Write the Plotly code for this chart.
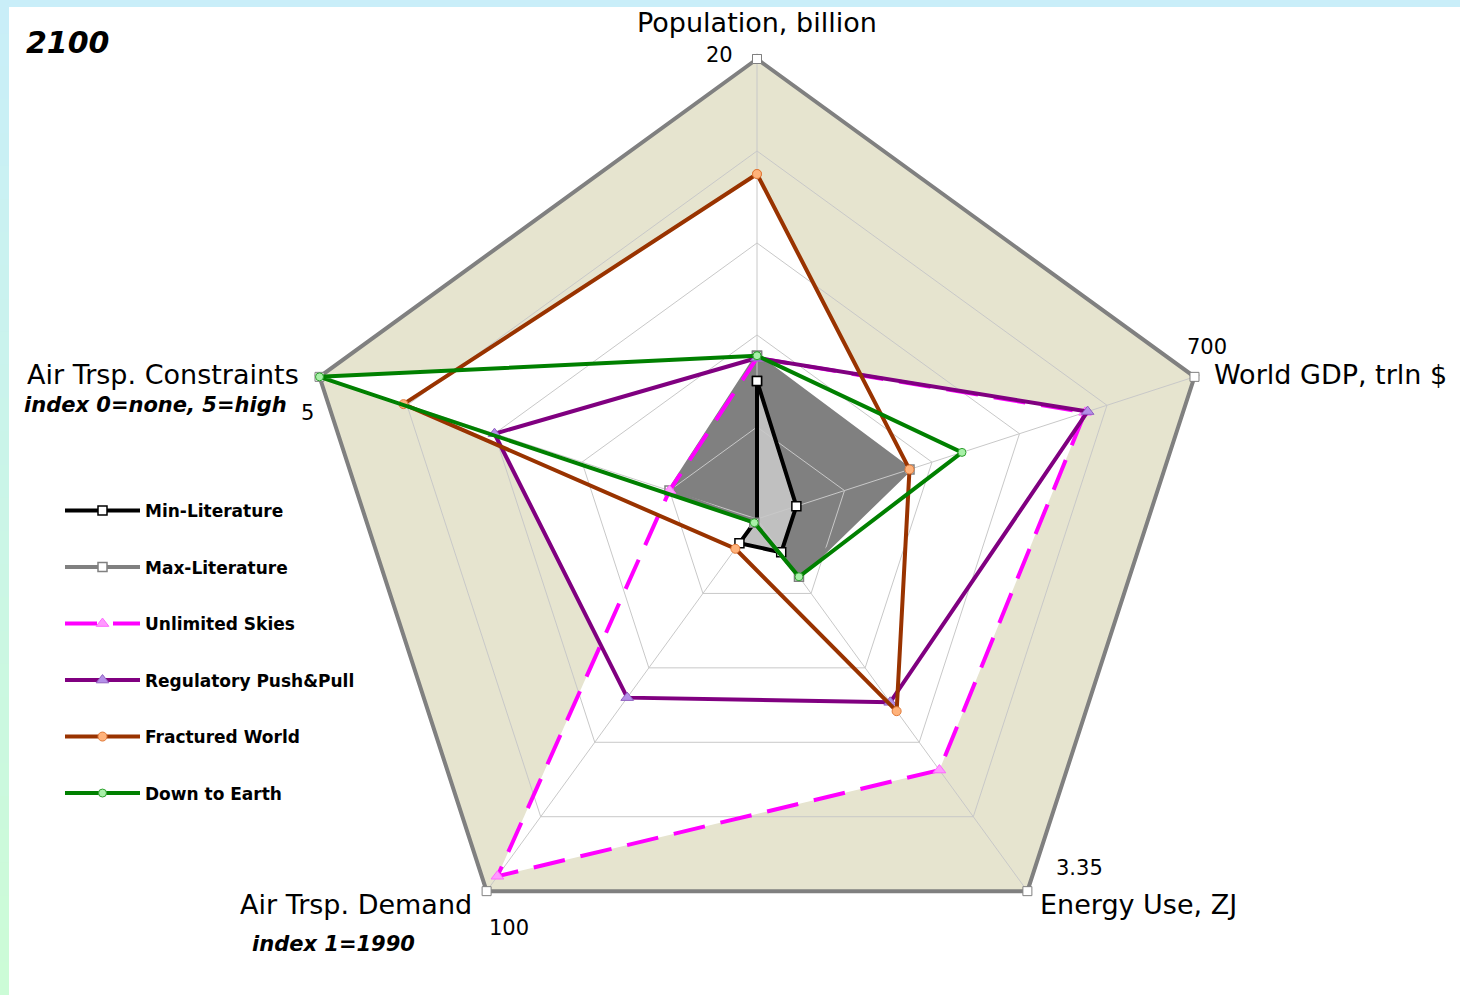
import math
import plotly.graph_objects as go

# ---------------- data ----------------
axes = ["Population, billion", "World GDP, trln $", "Energy Use, ZJ",
        "Air Trsp. Demand", "Air Trsp. Constraints"]
axis_max = [20, 700, 3.35, 100, 5]
axis_max_labels = ["20", "700", "3.35", "100", "5"]

min_literature = [6.0, 63, 0.30, 6.5, 0.0]
max_literature = [7.1, 244, 0.52, 1.0, 1.0]
unlimited_skies = [7.0, 525, 2.26, 96, 1.0]
regulatory_push_pull = [7.0, 529, 1.65, 48, 3.0]
fractured_world = [15.0, 244, 1.73, 8.0, 4.04]
down_to_earth = [7.1, 328, 0.52, 1.0, 5.0]
scale_frame = axis_max  # outer frame = axis maximum

year_label = "2100"

# ---------------- geometry / style ----------------
W, H = 1460, 995
CX, CY, R = 757, 519, 460          # pixel centre and radius of r = 1
RMAX = 1.012                        # small headroom so the frame line is not clipped
RD = R * RMAX
dom_x = [(CX - RD) / W, (CX + RD) / W]
dom_y = [(H - (CY + RD)) / H, (H - (CY - RD)) / H]
FONT = "DejaVu Sans"


def norm(vals):
    r = [v / m for v, m in zip(vals, axis_max)]
    return r + r[:1]


theta = axes + axes[:1]

fig = go.Figure()

# ---- layer 1 (polar): fills ----
fig.add_trace(go.Scatterpolar(r=norm(scale_frame), theta=theta, mode="lines", fill="toself",
                              fillcolor="#E6E4CF", line=dict(width=0, color="#E6E4CF"),
                              showlegend=False, hoverinfo="skip", subplot="polar"))
for vals in [unlimited_skies, regulatory_push_pull, fractured_world, down_to_earth]:
    fig.add_trace(go.Scatterpolar(r=norm(vals), theta=theta, mode="lines", fill="toself",
                                  fillcolor="white", line=dict(width=0, color="white"),
                                  showlegend=False, hoverinfo="skip", subplot="polar"))
fig.add_trace(go.Scatterpolar(r=norm(max_literature), theta=theta, mode="lines", fill="toself",
                              fillcolor="#808080", line=dict(width=0, color="#808080"),
                              showlegend=False, hoverinfo="skip", subplot="polar"))
fig.add_trace(go.Scatterpolar(r=norm(min_literature), theta=theta, mode="lines", fill="toself",
                              fillcolor="#C0C0C0", line=dict(width=0, color="#C0C0C0"),
                              showlegend=False, hoverinfo="skip", subplot="polar"))

# ---- layer 2 (polar2): grid, frame line and series lines ----
fig.add_trace(go.Scatterpolar(r=norm(scale_frame), theta=theta, mode="lines+markers",
                              line=dict(width=4, color="#808080"),
                              marker=dict(symbol="square", size=9, color="white",
                                          line=dict(color="#808080", width=1)),
                              cliponaxis=False, showlegend=False, hoverinfo="skip",
                              subplot="polar2"))

series = [
    ("Min-Literature", min_literature, dict(width=4, color="black"),
     dict(symbol="square", size=9, color="white", line=dict(color="black", width=1.5))),
    ("Max-Literature", max_literature, dict(width=4, color="#808080"),
     dict(symbol="square", size=9, color="white", line=dict(color="#808080", width=1.5))),
    ("Unlimited Skies", unlimited_skies, dict(width=4, color="#FF00FF", dash="32px,16px"),
     dict(symbol="triangle-up", size=11, color="#FF99FF", line=dict(color="#FF66FF", width=1))),
    ("Regulatory Push&Pull", regulatory_push_pull, dict(width=4, color="#800080"),
     dict(symbol="triangle-up", size=11, color="#B490E8", line=dict(color="#9060C0", width=1))),
    ("Fractured World", fractured_world, dict(width=4, color="#993300"),
     dict(symbol="circle", size=9, color="#FFB27A", line=dict(color="#E07A3A", width=1))),
    ("Down to Earth", down_to_earth, dict(width=4, color="#008000"),
     dict(symbol="circle", size=8, color="#A8F0A8", line=dict(color="#2EA02E", width=1))),
]
for i, (name, vals, ln, mk) in enumerate(series):
    fig.add_trace(go.Scatterpolar(r=norm(vals), theta=theta, mode="lines+markers",
                                  name="<b>" + name + "</b>", line=ln, marker=mk,
                                  legendgroup="g%d" % i, cliponaxis=False,
                                  subplot="polar2"))

polar_common = dict(
    domain=dict(x=dom_x, y=dom_y), gridshape="linear", bgcolor="rgba(0,0,0,0)", hole=0,
    radialaxis=dict(range=[0, RMAX], showticklabels=False, ticks="", showline=False,
                    tickvals=[0.2, 0.4, 0.6, 0.8], gridcolor="#C8C8C8", gridwidth=1, angle=90),
    angularaxis=dict(type="category", categoryarray=axes, rotation=90, direction="clockwise",
                     showticklabels=False, ticks="", showline=False, gridcolor="#C8C8C8",
                     gridwidth=1),
)
p1 = dict(polar_common)
p1["radialaxis"] = dict(polar_common["radialaxis"], showgrid=False)
p1["angularaxis"] = dict(polar_common["angularaxis"], showgrid=False)


# ---------------- annotations ----------------
def vertex(k):
    a = math.radians(72 * k)
    return CX + R * math.sin(a), CY - R * math.cos(a)


def ann(text, px, py, xanchor, size=25, yanchor="middle"):
    return dict(x=px / W, y=1 - py / H, xref="paper", yref="paper", text=text,
                showarrow=False, xanchor=xanchor, yanchor=yanchor,
                font=dict(family=FONT, size=size, color="black"))


annotations = []
# (title offset, anchor), (max label offset, anchor)
title_pos = [((0, -37), "center"), ((18, -2), "left"), ((11, 13), "left"),
             ((-13, 13), "right"), ((-19, -2), "right")]
max_pos = [((-22, -4), "right"), ((13, -30), "center"), ((52, -23), "center"),
           ((0, 37), "left"), ((-21, 36), "left")]
for k in range(5):
    vx, vy = vertex(k)
    (dx, dy), xa = title_pos[k]
    annotations.append(ann(axes[k], vx + dx, vy + dy, xa, size=27))
    (dx, dy), xa = max_pos[k]
    annotations.append(ann(axis_max_labels[k], vx + dx, vy + dy, xa, size=21))

vx, vy = vertex(3)
annotations.append(ann("<b><i>index 1=1990</i></b>", vx - 237, vy + 53, "left", size=21))
vx, vy = vertex(4)
annotations.append(ann("<b><i>index 0=none, 5=high</i></b>", vx - 31, vy + 28, "right", size=21))
annotations.append(ann("<b><i>" + year_label + "</i></b>", 24, 42, "left", size=30))

# ---------------- frame decoration ----------------
shapes = [dict(type="rect", xref="paper", yref="paper", x0=0, x1=1, y0=1 - 7 / H, y1=1,
               fillcolor="#C9EEF9", line=dict(width=0), layer="below")]
top_c = (201, 238, 249)
bot_c = (204, 252, 214)
nb = 30
for i in range(nb):
    t = (i + 0.5) / nb
    c = tuple(round(top_c[j] + (bot_c[j] - top_c[j]) * t) for j in range(3))
    shapes.append(dict(type="rect", xref="paper", yref="paper", x0=0, x1=9 / W,
                       y1=1 - i / nb, y0=1 - (i + 1) / nb - 0.001,
                       fillcolor="rgb(%d,%d,%d)" % c, line=dict(width=0), layer="below"))

fig.update_layout(
    width=W, height=H, margin=dict(l=0, r=0, t=0, b=0),
    paper_bgcolor="white", plot_bgcolor="white",
    polar=p1, polar2=polar_common,
    showlegend=True,
    legend=dict(x=60 / W, y=1 - 493 / H, xanchor="left", yanchor="top",
                font=dict(family=FONT, size=17, color="black"),
                itemwidth=75, tracegroupgap=31.4, bgcolor="rgba(0,0,0,0)",
                traceorder="grouped"),
    annotations=annotations, shapes=shapes,
)

fig.write_html("out.html", config={"displayModeBar": False},
               post_script="document.body.style.margin='0';document.body.style.overflow='hidden';")
